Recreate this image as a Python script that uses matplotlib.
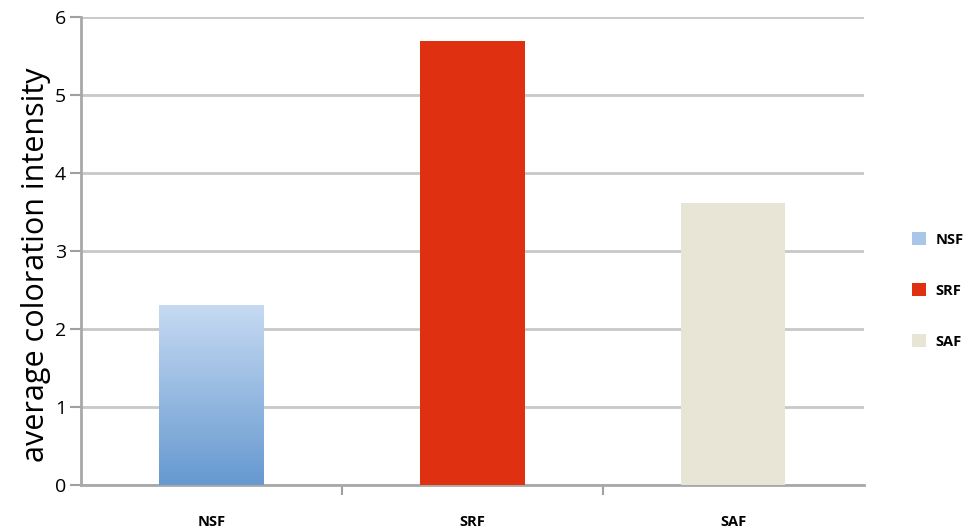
import matplotlib
matplotlib.use("Agg")
import matplotlib.pyplot as plt
import numpy as np
from matplotlib.patches import Patch
from matplotlib.colors import LinearSegmentedColormap

plt.rcParams["font.family"] = ["Open Sans", "DejaVu Sans"]

# data
categories = ["NSF", "SRF", "SAF"]
values = [2.3, 5.69, 3.62]
colors = ["#8fb4e3", "#e03012", "#e8e4d6"]
yticks = [0, 1, 2, 3, 4, 5, 6]

fig = plt.figure(figsize=(9.78, 5.31), dpi=100)
ax = fig.add_axes([0.083, 0.087, 0.8, 0.881])

x = np.arange(len(categories))
bars = ax.bar(x, values, width=0.4, color=colors, zorder=3)

# gradient fill for the first bar (light on top, darker at the bottom)
grad_cmap = LinearSegmentedColormap.from_list("nsf", ["#6699d0", "#c6daf2"])
b0 = bars[0]
b0.set_facecolor("none")
grad = np.linspace(0, 1, 256).reshape(-1, 1)
im = ax.imshow(grad, cmap=grad_cmap, origin="lower", aspect="auto",
               extent=[b0.get_x(), b0.get_x() + b0.get_width(), 0, b0.get_height()],
               zorder=3)
im.set_clip_path(b0)

ax.set_xlim(-0.5, 2.5)
ax.set_ylim(0, 6)
ax.set_yticks(yticks)
ax.set_yticklabels([str(t) for t in yticks], fontsize=14)
ax.set_xticks(x)
ax.set_xticklabels(categories, fontsize=10.5, fontweight="bold")
ax.tick_params(axis="x", length=0, pad=22)
ax.tick_params(axis="y", length=8, width=1.5, color="#a0a0a0", pad=3)

# separator ticks between categories
ax.set_xticks([0.5, 1.5], minor=True)
ax.tick_params(axis="x", which="minor", length=7, width=1.5, color="#a0a0a0")

ax.grid(axis="y", color="#c8c8c8", linewidth=2, zorder=0)
ax.set_axisbelow(True)
for s in ["top", "right"]:
    ax.spines[s].set_visible(False)
ax.spines["left"].set_color("#a8a8a8")
ax.spines["left"].set_linewidth(2)
ax.spines["bottom"].set_color("#a8a8a8")
ax.spines["bottom"].set_linewidth(2)

ax.set_ylabel("average coloration intensity", fontsize=22)
ax.yaxis.set_label_coords(-0.039, 0.47)

handles = [Patch(facecolor=c, edgecolor="none") for c in ["#a9c6e8", colors[1], colors[2]]]
leg = ax.legend(handles, categories, loc="center left", bbox_to_anchor=(1.045, 0.415),
                frameon=False, prop={"size": 10.5, "weight": "bold"},
                handlelength=1.0, handleheight=1.0, labelspacing=2.5, handletextpad=0.6)

fig.savefig("out.png", dpi=100)
